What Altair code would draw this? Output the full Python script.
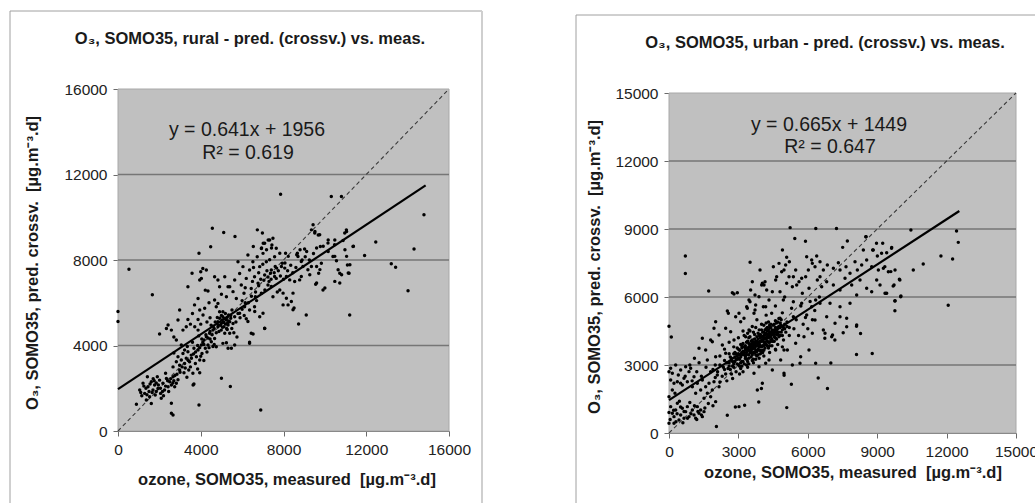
import altair as alt
import pandas as pd

# ---------------- data ----------------
# rural panel: (measured, predicted) pairs, grouped by region of the cloud
rural_outer = [(0,5590),(0,5120),(530,7570),(1660,6370),(3915,8320),(4560,9490),(5110,9290),(5655,9100),
    (6735,9410),(6980,9260),(7490,9020),(7860,11080),(10310,10970),(10800,10970),(9430,9650),(11040,9410),
    (11360,8630),(12460,8840),(11920,8210),(13210,7820),(13420,7660),(14310,8510),(14790,10120),(14020,6560),
    (11200,5430),(11170,7380),(10720,7380),(10720,6920),(11090,7770),(9910,6600),(9100,5430),(8730,5010),
    (8460,5670),(9555,6870),(9700,7380),(9830,7850),(9780,8630),(10150,8790),(10470,8710),(10390,8160),
    (10560,7960),(10640,7540),(10880,8910),(10960,9260),(9350,9410),(9510,9260),(9750,9180),(9020,8510),
    (8670,8320),(8860,7930),(8700,8160),(8940,7700),(9180,7540),(9350,7700),(9270,7310),(8860,7230),
    (8780,7070),(8540,6990),(8300,7070),(8100,8320),(7940,7850),(7900,7700),(8060,7620),(8140,7230),
    (7650,8550),(7820,8320),(7330,8010),(7370,7380),(7570,7230),(7410,6760),(7820,6600),(7980,6450),
    (8140,6210),(7980,5900),(8220,5900),(8380,6060),(8460,6450),(8510,5750),(7090,4810),(6360,4150),
    (6530,4540),(5430,2080),(5000,2470),(6900,980),(3915,1220),(2580,1300),(2580,830),(2660,750),
    (890,1250),(3630,2150),(3950,2730),(4590,3950),(5320,3870),(6280,5120),(7010,5510),(5880,5510),(6610,5590)]
rural_low = [(1050,1920),(1210,2230),(1290,1760),(1370,1450),(1450,2070),(1530,1600),(1610,2300),(1690,1920),
    (1770,2150),(1800,1680),(1930,1990),(2010,2380),(2060,1760),(2170,2230),(2250,1920),(2340,2460),
    (2420,2070),(2500,2300),(2580,2150),(2660,2540),(2740,2070),(2820,2230),(2090,1530),(1610,1290),
    (1900,2540),(1420,2540),(3670,2200),(1150,1650),(1350,2000),(1700,2450),(1850,2250),(2200,1650),
    (2450,1850),(2300,2700),(2700,2350),(1500,1850),
    (1100,1800),(1250,2100),(1400,1700),(1550,2200),(1650,1800),(1750,2350),(1850,1850),(1950,2150),
    (2050,2000),(2150,1850),(2300,2100),(2400,2350),(2550,2450),(2650,2250),(2750,2600),(2900,2400),
    (3000,2750),(3100,3000),(3250,2950)]
rural_mid = [(2660,3000),(2820,3240),(2900,3470),(2980,3080),(3060,3320),(3140,3630),(3220,3160),(3300,3400),
    (3380,3710),(3420,2850),(3460,3240),(3540,3550),(3620,2700),(3670,3870),(3740,3160),(3790,3470),
    (3870,3790),(3950,3320),(4030,4020),(4060,3630),(4160,4260),(4220,3870),(4270,4410),(4350,4020),
    (4430,4570),(4510,4180),(4590,4720),(4670,4330),(4750,3940),(4830,4880),(2980,2850),(3190,2730),
    (3330,2510),(3220,3790),(3060,4020),(2700,3650),(2850,2650),(3500,3000),(3850,2900),(4000,3500),
    (4100,4150),(4300,3700),(3600,4150),(3350,3950),(4450,4300),(4150,3300),(3900,4450),(4400,3900),(4650,4050),
    (3400,3300),(3550,3400),(3650,3600),(3750,3700),(3850,4000),(3950,3900),(4050,4300),(4150,4050),
    (4250,4500),(4350,4350),(4450,4650),(4550,4500),(4650,4800),(4750,4600),(4850,4950)]
rural_upleft = [(2010,4540),(2340,4800),(2420,4960),(2580,4720),(2900,5190),(2980,5660),(3140,4720),(3300,4880),
    (3380,5220),(3710,4880),(3870,5220),(3950,5660),(4110,5430),(4190,5740),(3870,4720),(2820,4260),
    (3500,5000),(4000,5000),(4300,5100),(3600,5500),(2700,4400),(4450,5300),(4500,4950),
    (3380,6750),(3580,7380),(3950,7060),(4030,7140),(4270,7530),(4350,6550),(3870,6200),(4220,6590),
    (4670,7220),(4830,7060),(4910,6750),(5160,7220),(5320,6750),(5240,6280),(4670,6130),(4830,5970),
    (4750,5810),(5070,5580),(4480,8620),(4000,7450),(4400,6000),(3700,5900),(4100,7600),(5000,6400)]
rural_core = [(4830,5110),(4910,5270),(4990,5030),(5070,5350),(5120,4880),(5190,5500),(5240,5190),(5320,4960),
    (5350,5430),(5450,5270),(5510,5660),(5560,5030),(5640,5350),(4990,4720),(5160,4570),(5280,4750),
    (5400,4570),(5070,4100),(5240,4130),(5480,3870),(5640,4020),(4910,5580),(4800,5310),(5030,5190),
    (5120,5070),(5280,5320),(5400,5110),(4950,4950),(5200,5000),(5050,4850),(5350,5150),(5150,5250),
    (4880,4650),(5500,4800),(5700,5100),(5800,5500),(5900,5300),(6000,5700),(6100,5400),(5600,4600),
    (5750,4400),(6200,5250),(4700,5100),(4600,4900),(5000,5400),(5100,5100),(5300,5050),(5450,5400),(5250,4800)]
rural_upper = [(5400,6750),(5560,6520),(5640,7060),(5720,6200),(5800,7920),(5880,7370),(5960,6830),(6040,7690),
    (6090,6440),(6200,7140),(6280,8230),(6360,7530),(6440,6670),(6520,7920),(6600,7220),(6640,6280),
    (6730,8150),(6770,6910),(6850,7690),(6930,6440),(7010,8310),(7090,7300),(7170,7920),(7250,6830),
    (7330,8940),(7410,7530),(7490,6280),(7570,8150),(7650,7140),(7090,8780),(7440,8700),(6930,8540),
    (6120,5810),(6360,5660),(6600,5810),(6850,5350),(7090,4800),(6440,4570),(6360,4100),(6300,6000),
    (6700,6100),(6500,7000),(6900,7100),(7100,6600),(7300,7000),(7600,7700),(7700,6500),(6000,6100),
    (6150,6700),(7200,7500),(6800,7400),(6550,7650),(7000,7800),
    (9520,9330),(9680,9170),(10160,8940),(10480,8940),(11050,9330),(11380,8640),(10970,8480),(10480,8170),
    (10160,8400),(9920,8640),(9600,8560),(9120,8400),(8800,8480),(8640,8250),(8230,8170),(8070,7860),
    (7670,7620),(9600,7700),(9760,7550),(9600,6920),(10000,6690),(11050,8170),(11210,7780),(11130,7390),
    (10810,7310),(10480,7000),(7020,8780),(7260,8940),(7420,8560),(6540,8630),(6940,8560),(7180,8480),
    (6150,6000),(6450,6300),(6650,6500),(6800,6800),(7050,7050),(7250,7200),(7400,7100),(7550,7400),
    (7750,7500),(7850,7250),(8000,7100),(8200,7500),(8350,7750),(8450,7400),(8600,7650),(8900,8000),
    (9050,8150),(9250,8000),(9450,8300)]

# urban panel
urban_outer = [(707,7810),(707,7040),(1716,6260),(3505,7530),(5236,9060),(5438,8580),(6346,9020),(7240,9020),
    (5900,8460),(4904,8070),(10457,8960),(8510,8660),(12430,8910),(12505,8410),(11755,7810),(12260,7680),
    (10990,7460),(10560,7190),(12070,5640),(9980,6750),(10025,6040),(9765,5820),(9765,5390),(9375,6160),
    (9690,6480),(9590,7120),(9330,7340),(9620,8150),(9190,7930),(8830,8070),(8970,8370),(8106,3460),
    (8785,3510),(7530,4420),(6996,3090),(6450,2430),(6850,1960),(5290,2150),(4976,2550),(5090,1120),
    (3995,1960),(3880,1370),(3270,1220),(2870,1150),(2520,780),(2050,290),(0,4710),(100,4240),
    (6736,4180),(8106,4710),(8280,4390),(7170,4100),(7070,4320)]
urban_low = [(72,1163),(144,869),(216,722),(288,1016),(360,1310),(432,575),(504,796),(576,1090),(648,649),
    (720,943),(793,1163),(865,722),(1009,1016),(1081,796),(1153,649),(1225,1163),(1297,869),(1369,1016),
    (1441,722),(1513,943),(0,1604),(144,1898),(259,1751),(72,2339),(216,2192),(360,2265),(403,2560),
    (576,2118),(648,2413),(793,2265),(865,2707),(1009,2045),(1081,2486),(1153,1751),(1225,2192),(1369,1898),
    (1441,2339),(1513,1531),(1585,2045),(1657,1751),(1729,2192),(1801,1604),(1873,1898),(1945,2265),
    (2017,1384),(2089,2560),(2162,2045),(144,2633),(504,2780),(720,2927),(937,2853),(72,2853),(288,3000),
    (0,428),(216,428),(200,1000),(350,850),(500,1150),(650,950),(800,650),(950,850),(1100,1200),(1250,950),
    (1400,800),(1550,1100),(300,500),(600,450),(900,1350),(1200,600),(450,1400),(0,2700),(0,900),(50,600),
    (1700,1300),(1900,1200)]
urban_core = [(2600,3100),(2650,2800),(2700,3300),(2750,2950),(2800,3500),(2850,3150),(2900,2700),(2950,3400),
    (3000,3000),(3000,3700),(3050,3250),(3100,2850),(3100,3900),(3150,3550),(3200,3150),(3250,3800),
    (3250,4300),(3300,3400),(3350,3000),(3350,4000),(3400,3650),(3450,4200),(3450,3300),(3500,3850),
    (3500,4500),(3550,3550),(3600,4100),(3600,3200),(3650,3750),(3700,4350),(3700,3950),(3750,3450),
    (3750,4650),(3800,4050),(3850,3700),(3850,4400),(3900,3900),(3950,4200),(3950,3500),(4000,4550),
    (4000,3800),(4050,4100),(4100,3650),(4100,4750),(4150,4350),(4200,3900),(4200,4600),(4250,4200),
    (4300,4900),(4300,3750),(4350,4450),(4400,4100),(4400,4650),(4450,3850),(4500,4400),(4550,4800),
    (4600,4200),(4650,4550),(4700,3900),(4750,4700),(4800,4300),(4850,5000),(4900,4550),(4950,4100),
    (5000,4800),(3000,3500),(3150,2950),(3300,3700),(3550,3900),(3650,4000),(3800,3600),(3900,4300),
    (4050,4450),(4150,4000),(4250,4500),(4350,4000),(3450,3800),(3350,3550),(2900,3250),(2800,2900),
    (2700,2600),(2550,2850),(2450,2600),(2350,2900),(2300,2500),(2200,3000),(2100,2700),(2000,2450),
    (2400,3200),(2600,3500),(2200,2250),(1900,2800),(2500,2300),(2750,2400),(3050,2600),(3200,2700),
    (3400,2900),(3650,3100),(3900,3300),(4100,3400),(4350,3550),(4600,3700),(4900,3800),
    (2850,3350),(2950,3050),(3050,3450),(3150,3150),(3250,3550),(3350,3250),(3450,3650),(3550,3350),
    (3650,3550),(3750,3250),(3850,3950),(3950,3650),(4050,3850),(4150,4150),(4250,3850),(4350,4250),
    (4450,4550),(4550,4250),(4650,4850),(4750,4450),(3300,3850),(3400,4050),(3500,4250),(3600,3450),
    (3700,3750),(3800,4250),(3900,4550),(4000,4250),(4100,4450),(4200,4850),(4300,4350),(4400,4450),
    (4500,4750),(4600,4950),(4700,4650),(3100,3350),(3200,3950),(2950,3750),(3050,2950),(3150,3750),
    (3450,3450),(3550,4050),(3650,4450),(3750,4050),(3850,4150),(3950,3850),(4050,3550),(4150,3750),
    (4250,4050),(4350,4650),(4450,4150),(4550,4550),(4650,4350),(4750,5050),(4850,4750),(3700,4150),
    (3900,4000),(4100,4000),(4300,4200),(3600,3700)]
urban_core2 = [(2650,3350),(2750,3150),(2850,3550),(2950,3250),(3050,3650),(3150,3450),(3250,3050),(3350,3450),
    (3450,3050),(3550,3650),(3650,3250),(3750,3850),(3850,3450),(3950,4050),(4050,3650),(4150,4550),
    (4250,4350),(4350,3850),(4450,4350),(4550,4050),(4650,4150),(4750,4250),(4850,4450),(4950,4650),
    (5050,4450),(3400,3150),(3500,3550),(3600,3950),(3700,3550),(3800,3850),(3900,3650),(4000,4050),
    (4100,3850),(4200,4150),(4300,4550),(4400,4250),(4500,4050),(4600,4450),(4700,4350),(4800,4650),
    (3300,3300),(3200,3600),(3100,3100),(3000,3300),(2900,3500),(3800,3400),(3900,3800),(4000,3600),
    (4100,4300),(4200,4400),(4300,4000),(4400,4350),(4500,4500),(3650,3850),(3750,3650),(3850,3850),
    (3950,4350),(4050,4250),(4150,3950),(4250,4650),(3550,3750),(3450,3950),(3350,3750),(3250,3450),
    (3150,3850),(2800,3050),(2700,3200),(2600,2950),(2500,3100),(2400,2800),(4900,4300),(5000,4600),
    (5100,4900),(5200,4650),(4800,4850),(4700,4450),(4600,4650),(4550,4350),(4450,4050),(4350,4750)]
urban_side = [(2017,4912),(1945,4618),(2522,5382),(2565,5279),(2738,6190),(2810,6132),(2954,6190),(2882,5132),
    (3026,5279),(3098,4912),(3242,5059),(3386,5500),(3458,5867),(3530,6308),(3602,6675),(3674,5279),
    (3746,5647),(3890,6014),(4035,6602),(4107,6528),(4179,5573),(4323,5867),(4467,6234),(4611,6749),
    (4755,7484),(4971,7190),(5043,7410),(5188,6896),(5332,6455),(5476,7190),(5620,6675),(5764,6161),
    (5908,6896),(6052,6382),(6196,7484),(6340,5867),(6412,6749),(1441,4177),(1297,3735),(1585,3662),
    (1873,4030),(2162,4323),(2306,3882),(1657,3221),(2017,3368),(2450,3515),(2666,4471),(2810,4103),
    (2450,4618),(1801,4103),(3458,4544),(3314,4250),
    (4611,3662),(4827,3221),(4971,2633),(5116,3662),(5332,3000),(5476,3956),(5692,3368),(5836,4250),
    (6052,3662),(6196,4397),(6340,3074),(5663,3074),(4971,3662),(4323,3221),(4467,2780),(4179,3074),
    (3890,2927),(3674,2633),(4035,2192),(3818,1898),(3026,1163),
    (4700,4900),(4900,5300),(5100,4700),(5300,5500),(5500,5000),(5700,5600),(5900,5100),(6100,5800),
    (6300,5400),(6500,6000),(4600,5600),(5000,6000),(5200,4300),(5400,4600),(5600,4300),(5800,4800),
    (6000,4600),(6200,5000),(4400,4800),(4200,5200),(4000,4800),(3800,5000),(3600,4700),(3400,4400),
    (3200,4500),(3000,4200),(2800,3800),(2600,4000),(2400,3700),(2200,3400),(2000,3000),(1800,2700),
    (1600,2900),(1400,2500),(1200,2700),(1000,2300),(1300,3100),(1100,3300),(900,3000),(700,2500),(500,2200)]
urban_upper = [(7710,8470),(7508,8190),(8517,8661),(8401,8073),(8805,8073),(9238,8367),(9627,8190),(9410,7955),
    (9007,7808),(5087,7750),(5203,7558),(5952,7779),(6168,7632),(6384,7808),(6528,7558),(6312,7338),
    (6024,7191),(6673,7191),(6845,7411),(7105,7264),(7321,7514),(7393,7191),(7652,7338),(7825,7044),
    (8041,7558),(8142,7191),(8329,7411),(8545,7632),(8762,7338),(9050,7191),(9266,7264),(9482,7117),
    (9771,7191),(9958,6780),(6528,6897),(6817,6677),(6600,6456),(7105,6530),(7393,6309),(7609,6824),
    (7897,6530),(8257,6750),(8545,6383),(8978,6750),(9122,6530),(9338,6162),(9728,6530),(10016,6015),
    (9771,5839),(9410,6162),(8762,6236),(8113,6089),(7825,5721),(7393,5574),(6961,5721),(6528,5721),
    (6168,5574),(5736,5721),(5376,5795),(4943,5868),(4799,6236),(5087,6603),(5520,6530),(5736,6824),
    (5376,6897),(4655,6897),(4511,7338),(4871,7117),(4151,6677),(4007,6530),(3935,7191),(4223,6309),
    (3718,6089),(3502,5795),(3358,5574),(3718,5427),(4079,5574),(4439,5280),(4799,5059),(5376,5133),
    (5952,5206),(6312,4986),(6817,5133),(7177,4839),(7393,5133),(7681,4692),(6673,4545),(7033,4251),
    (6744,4398),(8113,4765),(7681,5059)]

# axis ticks and gridlines
rural_ticks = [0, 4000, 8000, 12000, 16000]
rural_grid = [4000, 8000, 12000]
urban_ticks = [0, 3000, 6000, 9000, 12000, 15000]
urban_grid = [3000, 6000, 9000, 12000]

# trend lines (from the printed equations) and 1:1 lines
rural_fit_x = [0, 14870]
rural_fit_y = [1956, 11488]
urban_fit_x = [0, 12550]
urban_fit_y = [1449, 9795]
rural_diag = [0, 16000]
urban_diag = [0, 15000]

FONT = "Liberation Sans"
one = pd.DataFrame({"k": [0]})


def pts_df(*groups):
    rows = [p for g in groups for p in g]
    return pd.DataFrame({"meas": [r[0] for r in rows], "pred": [r[1] for r in rows]})


def axis(orient, offset, values, pad):
    return alt.Axis(orient=orient, offset=offset, values=values, format="d", grid=False, title=None,
                    domainColor="#6a6a6a", tickColor="#6a6a6a", tickSize=5, labelFont=FONT,
                    labelFontSize=15.5, labelColor="#222222", labelPadding=pad, labelOverlap=False,
                    labelFlush=False)


def panel(points, ticks, grid, fit_x, fit_y, diag, dmax, xrange, yrange, xoff, yoff):
    xs = alt.Scale(domain=[0, dmax], range=xrange, nice=False, zero=False)
    ys = alt.Scale(domain=[0, dmax], range=yrange, nice=False, zero=False)
    bg = alt.Chart(one).mark_rect(fill="#c0c0c0", stroke="#a8a8a8", strokeWidth=1).encode(
        x=alt.X(datum=0, type="quantitative", scale=xs, axis=axis("bottom", xoff, ticks, 6)),
        x2=alt.X2(datum=dmax),
        y=alt.Y(datum=0, type="quantitative", scale=ys, axis=axis("left", yoff, ticks, 6)),
        y2=alt.Y2(datum=dmax),
    )
    gdf = pd.DataFrame({"g": grid})
    gr = alt.Chart(gdf).mark_rule(color="#767676", strokeWidth=1.4).encode(
        y=alt.Y("g:Q", scale=ys, axis=None),
        x=alt.X(datum=0, type="quantitative", scale=xs, axis=None),
        x2=alt.X2(datum=dmax),
    )
    ddf = pd.DataFrame({"a": diag, "b": diag})
    dl = alt.Chart(ddf).mark_line(color="#3a3a3a", strokeDash=[4, 3], strokeWidth=1.1).encode(
        x=alt.X("a:Q", scale=xs, axis=None), y=alt.Y("b:Q", scale=ys, axis=None))
    sc = alt.Chart(points).mark_circle(size=12, color="black", opacity=1).encode(
        x=alt.X("meas:Q", scale=xs, axis=None), y=alt.Y("pred:Q", scale=ys, axis=None))
    fdf = pd.DataFrame({"a": fit_x, "b": fit_y})
    fl = alt.Chart(fdf).mark_line(color="black", strokeWidth=2.2).encode(
        x=alt.X("a:Q", scale=xs, axis=None), y=alt.Y("b:Q", scale=ys, axis=None))
    return alt.layer(bg, gr, dl, sc, fl).resolve_axis(x="independent", y="independent")


rural = panel(pts_df(rural_outer, rural_low, rural_mid, rural_upleft, rural_core, rural_upper),
              rural_ticks, rural_grid, rural_fit_x, rural_fit_y, rural_diag, 16000,
              [118, 449], [431, 89], -72, -118)
urban = panel(pts_df(urban_outer, urban_low, urban_core, urban_core2, urban_side, urban_upper),
              urban_ticks, urban_grid, urban_fit_x, urban_fit_y, urban_diag, 15000,
              [669, 1016], [433, 93], -70, -669)


def txt(s, x, y, size, bold=False, angle=0):
    kw = dict(font=FONT, fontSize=size, fontWeight="bold" if bold else "normal", color="#1a1a1a",
              align="center", baseline="middle")
    if angle:
        kw["angle"] = angle
    return alt.Chart(one).mark_text(text=s, **kw).encode(x=alt.value(x), y=alt.value(y))


def frame(x, y, x2, y2, color, w):
    return alt.Chart(one).mark_rule(color=color, strokeWidth=w).encode(
        x=alt.value(x), y=alt.value(y), x2=alt.value(x2), y2=alt.value(y2))


decor = [
    frame(10, 11, 10, 503, "#a0a0a0", 1), frame(10, 11, 482, 11, "#a0a0a0", 1),
    frame(482, 11, 482, 503, "#cfcfcf", 2),
    frame(576, 15, 576, 503, "#a0a0a0", 1), frame(576, 15, 1035, 15, "#a0a0a0", 1),
    txt("O\u2083, SOMO35, rural - pred. (crossv.) vs. meas.", 250, 39, 16.5, True),
    txt("O\u2083, SOMO35, urban - pred. (crossv.) vs. meas.", 825, 43, 16.5, True),
    txt("y = 0.641x + 1956", 247, 130, 19.5), txt("R\u00b2 = 0.619", 248, 153, 19.5),
    txt("y = 0.665x + 1449", 829, 125, 19.5), txt("R\u00b2 = 0.647", 830, 147, 19.5),
    txt("ozone, SOMO35, measured\u00a0 [\u00b5g.m\u207b\u00b3.d]", 287, 480, 16.5, True),
    txt("ozone, SOMO35, measured\u00a0 [\u00b5g.m\u207b\u00b3.d]", 853, 473, 16.5, True),
    txt("O\u2083, SOMO35, pred. crossv.\u00a0 [\u00b5g.m\u207b\u00b3.d]", 33, 263, 16.5, True, 270),
    txt("O\u2083, SOMO35, pred. crossv.\u00a0 [\u00b5g.m\u207b\u00b3.d]", 595, 267, 16.5, True, 270),
]

chart = alt.layer(rural, urban, *decor).resolve_scale(
    x="independent", y="independent").resolve_axis(x="independent", y="independent").properties(
    width=1035, height=503, autosize=alt.AutoSizeParams(type="none"), padding=0,
    background="white").configure_view(stroke=None)

chart.save("out.html", embed_options={"renderer": "svg", "actions": False})
